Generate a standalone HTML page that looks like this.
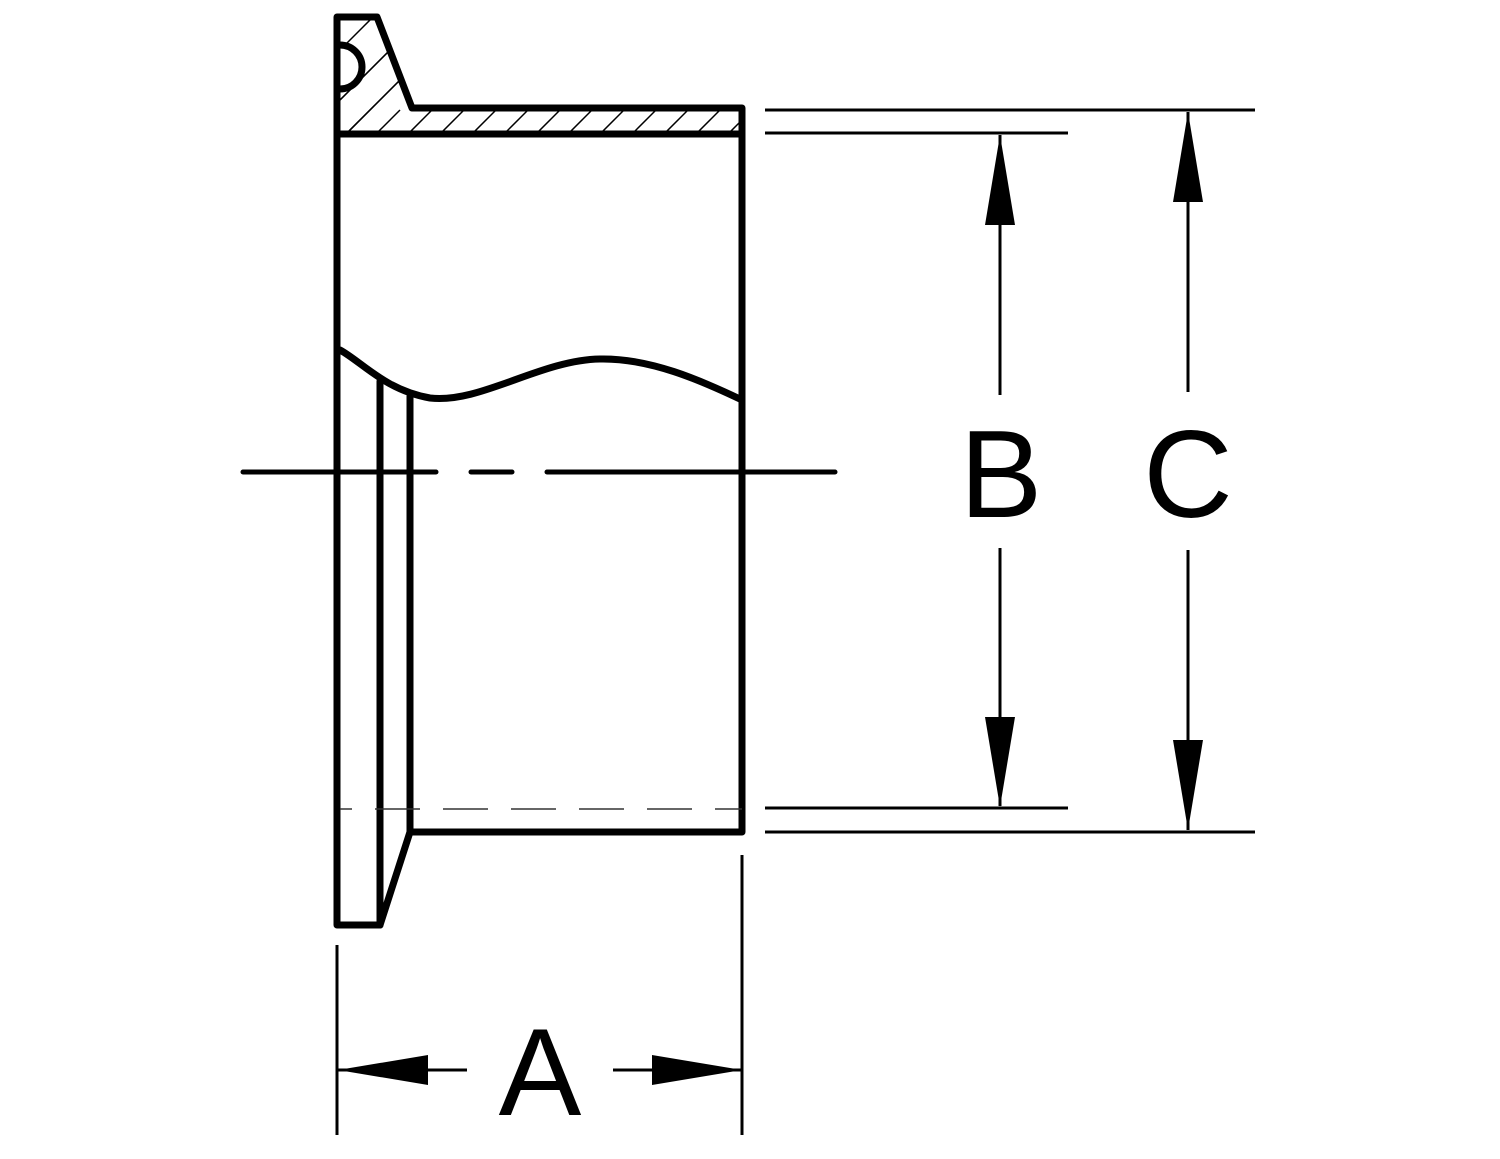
<!DOCTYPE html>
<html><head><meta charset="utf-8"><style>
html,body{margin:0;padding:0;background:#fff}
svg{display:block}
text{font-family:"Liberation Sans",Arial,sans-serif;fill:#000}
</style></head><body>
<svg width="1500" height="1159" viewBox="0 0 1500 1159" xmlns="http://www.w3.org/2000/svg">
<defs>
<clipPath id="hc"><path d="M337,17 L377,17 L412,108 L742,108 L742,134 L337,134 Z"/></clipPath>
</defs>
<g clip-path="url(#hc)" stroke="#000" stroke-width="1.5">
<line x1="300" y1="180" x2="480" y2="0"/>
<line x1="310" y1="130" x2="440" y2="0"/>
<line x1="330" y1="110" x2="440" y2="0"/>
<line x1="330" y1="60" x2="400" y2="-10"/>
<line x1="330" y1="150" x2="460" y2="20"/>
<line x1="360" y1="150" x2="400" y2="110"/>
<line x1="392" y1="150" x2="432" y2="110"/>
<line x1="424" y1="150" x2="464" y2="110"/>
<line x1="456" y1="150" x2="496" y2="110"/>
<line x1="488" y1="150" x2="528" y2="110"/>
<line x1="520" y1="150" x2="560" y2="110"/>
<line x1="552" y1="150" x2="592" y2="110"/>
<line x1="584" y1="150" x2="624" y2="110"/>
<line x1="616" y1="150" x2="656" y2="110"/>
<line x1="648" y1="150" x2="688" y2="110"/>
<line x1="680" y1="150" x2="720" y2="110"/>
<line x1="712" y1="150" x2="752" y2="110"/>
</g>
<path d="M340,45 A22,22 0 0 1 340,89 Z" fill="#fff"/>
<g fill="none" stroke="#000" stroke-width="7" stroke-linejoin="round" stroke-linecap="round">
<path d="M337,17 L377,17 L412,108 L742,108 L742,832 L410,832 L380,925 L337,925 Z"/>
<line x1="337" y1="134" x2="742" y2="134"/>
<path d="M340,45 A22,22 0 0 1 340,89"/>
<path d="M340,350 C362,362 385,390 430,398 C480,404 540,360 600,359 C650,358 700,380 742,400"/>
<line x1="380" y1="381" x2="380" y2="925"/>
<line x1="410" y1="396" x2="410" y2="832"/>
</g>
<g stroke="#000" stroke-width="5" stroke-linecap="round">
<line x1="243" y1="472" x2="436" y2="472"/>
<line x1="471" y1="472" x2="512" y2="472"/>
<line x1="547" y1="472" x2="835" y2="472"/>
</g>
<line x1="340" y1="809" x2="742" y2="809" stroke="#333" stroke-width="1.5" stroke-dasharray="45,23" stroke-dashoffset="-35"/>
<g stroke="#000" stroke-width="3">
<line x1="765" y1="110" x2="1255" y2="110"/>
<line x1="765" y1="133" x2="1068" y2="133"/>
<line x1="765" y1="808" x2="1068" y2="808"/>
<line x1="765" y1="832" x2="1255" y2="832"/>
<line x1="1000" y1="135" x2="1000" y2="395"/>
<line x1="1000" y1="548" x2="1000" y2="806"/>
<line x1="1188" y1="112" x2="1188" y2="392"/>
<line x1="1188" y1="550" x2="1188" y2="830"/>
<line x1="337" y1="945" x2="337" y2="1135"/>
<line x1="742" y1="855" x2="742" y2="1135"/>
<line x1="338" y1="1070" x2="467" y2="1070"/>
<line x1="613" y1="1070" x2="742" y2="1070"/>
</g>
<g fill="#000">
<path d="M1000,135 L1015,225 L985,225 Z"/>
<path d="M1000,807 L1015,717 L985,717 Z"/>
<path d="M1188,112 L1203,202 L1173,202 Z"/>
<path d="M1188,830 L1203,740 L1173,740 Z"/>
<path d="M338,1070 L428,1055 L428,1085 Z"/>
<path d="M742,1070 L652,1055 L652,1085 Z"/>
</g>
<text x="1001" y="517" font-size="124" text-anchor="middle">B</text>
<text x="1188" y="517" font-size="124" text-anchor="middle">C</text>
<text x="540" y="1115" font-size="124" text-anchor="middle">A</text>
</svg>
</body></html>
